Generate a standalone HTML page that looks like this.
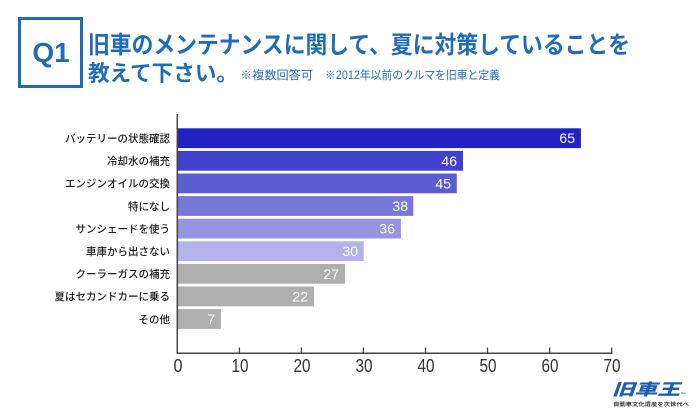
<!DOCTYPE html>
<html><head><meta charset="utf-8"><style>
html,body{margin:0;padding:0;background:#fff;}
svg{display:block;}
</style></head><body>
<svg width="700" height="420" viewBox="0 0 700 420" xmlns="http://www.w3.org/2000/svg">
<rect width="700" height="420" fill="#fff"/>
<!-- Q1 box -->
<rect x="19.5" y="18.5" width="62" height="68" fill="none" stroke="#1f6db6" stroke-width="3"/>
<text x="51" y="62" text-anchor="middle" font-family="Liberation Sans, sans-serif" font-weight="bold" font-size="28" fill="#1f6db6">Q1</text>
<!-- Title -->
<g font-family="'Liberation Sans','Noto Sans CJK JP',sans-serif" fill="#1f6db6" font-weight="bold">
<text x="88" y="53" font-size="24" textLength="542" lengthAdjust="spacingAndGlyphs">旧車のメンテナンスに関して、夏に対策していることを</text>
<text x="88" y="81" font-size="22" textLength="150" lengthAdjust="spacingAndGlyphs">教えて下さい。</text>
</g>
<g font-family="'Liberation Sans','Noto Sans CJK JP',sans-serif" fill="#1f6db6" font-size="11.5">
<text x="240" y="79" textLength="73" lengthAdjust="spacingAndGlyphs">※複数回答可</text>
<text x="325" y="79" textLength="175" lengthAdjust="spacingAndGlyphs">※2012年以前のクルマを旧車と定義</text>
</g>
<!-- Bars -->
<g>
<rect x="177.5" y="128.3" width="403.4" height="19.8" fill="#2222c2"/>
<rect x="177.5" y="150.9" width="285.5" height="19.8" fill="#4141cc"/>
<rect x="177.5" y="173.5" width="279.3" height="19.8" fill="#5d5dd2"/>
<rect x="177.5" y="196.1" width="235.8" height="19.8" fill="#7878d9"/>
<rect x="177.5" y="218.7" width="223.4" height="19.8" fill="#9595e1"/>
<rect x="177.5" y="241.3" width="186.2" height="19.8" fill="#b3b3ea"/>
<rect x="177.5" y="263.9" width="167.6" height="19.8" fill="#afafaf"/>
<rect x="177.5" y="286.5" width="136.5" height="19.8" fill="#afafaf"/>
<rect x="177.5" y="309.1" width="43.4" height="19.8" fill="#afafaf"/>
</g>
<!-- Value labels -->
<g font-family="Liberation Sans, sans-serif" font-size="14" fill="#fff" text-anchor="end">
<text x="575" y="143.2">65</text>
<text x="457" y="165.8">46</text>
<text x="451" y="188.4">45</text>
<text x="408" y="211">38</text>
<text x="395" y="233.6">36</text>
<text x="358" y="256.2">30</text>
<text x="339" y="278.8">27</text>
<text x="308" y="301.4">22</text>
<text x="215" y="324">7</text>
</g>
<!-- Category labels -->
<g font-family="'Liberation Sans','Noto Sans CJK JP',sans-serif" font-size="10.5" font-weight="500" fill="#1a1a1a" text-anchor="end">
<text x="170" y="142">バッテリーの状態確認</text>
<text x="170" y="164.6">冷却水の補充</text>
<text x="170" y="187.2">エンジンオイルの交換</text>
<text x="170" y="209.8">特になし</text>
<text x="170" y="232.4">サンシェードを使う</text>
<text x="170" y="255">車庫から出さない</text>
<text x="170" y="277.6">クーラーガスの補充</text>
<text x="170" y="300.2">夏はセカンドカーに乗る</text>
<text x="170" y="322.8">その他</text>
</g>
<!-- Axes -->
<line x1="177.3" y1="114" x2="177.3" y2="354" stroke="#444" stroke-width="1.5"/>
<line x1="176.5" y1="353.3" x2="612.5" y2="353.3" stroke="#444" stroke-width="1.5"/>
<g stroke="#444" stroke-width="1.3">
<line x1="239.4" y1="347.5" x2="239.4" y2="353"/>
<line x1="301.4" y1="347.5" x2="301.4" y2="353"/>
<line x1="363.4" y1="347.5" x2="363.4" y2="353"/>
<line x1="425.5" y1="347.5" x2="425.5" y2="353"/>
<line x1="487.5" y1="347.5" x2="487.5" y2="353"/>
<line x1="549.6" y1="347.5" x2="549.6" y2="353"/>
<line x1="611.7" y1="347.5" x2="611.7" y2="353"/>
</g>
<g font-family="Liberation Sans, sans-serif" font-size="18" fill="#333" text-anchor="middle">
<text x="178" y="372" textLength="9" lengthAdjust="spacingAndGlyphs">0</text>
<text x="240" y="372" textLength="17" lengthAdjust="spacingAndGlyphs">10</text>
<text x="302" y="372" textLength="17" lengthAdjust="spacingAndGlyphs">20</text>
<text x="364" y="372" textLength="17" lengthAdjust="spacingAndGlyphs">30</text>
<text x="426" y="372" textLength="17" lengthAdjust="spacingAndGlyphs">40</text>
<text x="488" y="372" textLength="17" lengthAdjust="spacingAndGlyphs">50</text>
<text x="550" y="372" textLength="17" lengthAdjust="spacingAndGlyphs">60</text>
<text x="612" y="372" textLength="17" lengthAdjust="spacingAndGlyphs">70</text>
</g>
<!-- Logo -->
<text x="612" y="395" font-family="'Liberation Sans','Noto Sans CJK JP',sans-serif" font-weight="900" font-style="italic" font-size="16" fill="#1f5fb0" textLength="68" lengthAdjust="spacingAndGlyphs">旧車王</text>
<text x="681" y="394" font-family="Liberation Sans, sans-serif" font-size="3" fill="#1f5fb0">INC</text>
<text x="613" y="406" font-family="'Liberation Sans','Noto Sans CJK JP',sans-serif" font-weight="bold" font-size="5" fill="#333" textLength="76" lengthAdjust="spacingAndGlyphs">自動車文化遺産を次世代へ</text>
</svg>
</body></html>
